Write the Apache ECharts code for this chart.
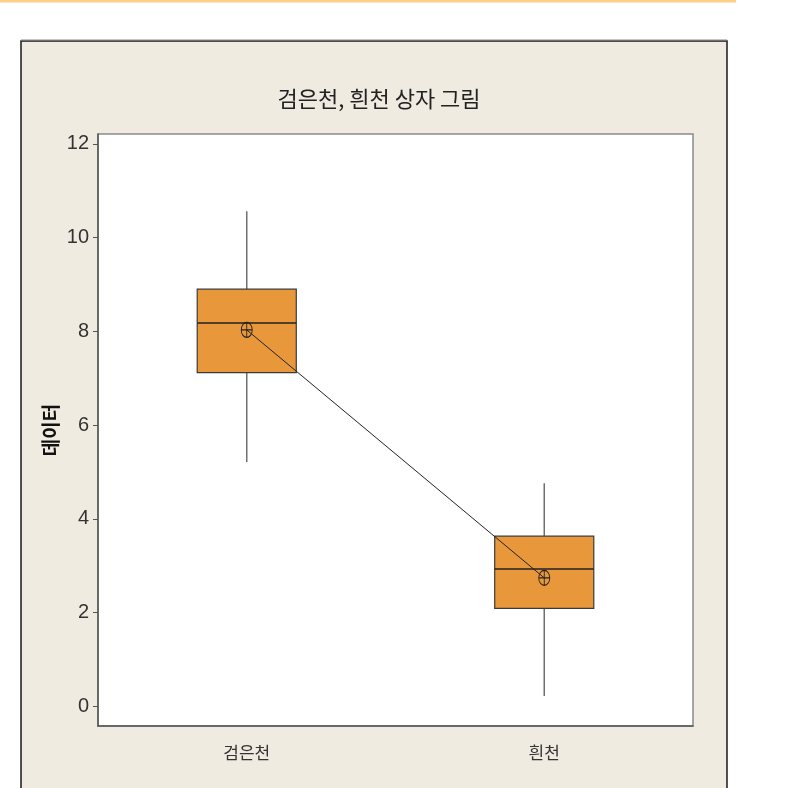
<!DOCTYPE html>
<html>
<head>
<meta charset="utf-8">
<script src="https://cdn.jsdelivr.net/npm/echarts@6/dist/echarts.min.js"></script>
<style>html,body{margin:0;padding:0;background:#fff;}#c{width:812px;height:788px;}</style>
</head>
<body>
<div id="c"></div>
<script>
// ---- data ----
var categories = ['검은천', '흰천'];
var whiskerLow = [5.21, 0.22];
var q1 = [7.12, 2.09];
var median = [8.18, 2.93];
var q3 = [8.90, 3.63];
var whiskerHigh = [10.56, 4.76];
var means = [8.03, 2.74];
var yTicks = [0, 2, 4, 6, 8, 10, 12];
var titleText = '검은천, 흰천 상자 그림';
var yName = '데이터';

var boxData = categories.map(function (c, i) {
  return [i, whiskerLow[i], q1[i], median[i], q3[i], whiskerHigh[i]];
});
var meanData = categories.map(function (c, i) { return [i, means[i]]; });

var chart = echarts.init(document.getElementById('c'), null, { renderer: 'canvas' });

var option = {
  backgroundColor: '#ffffff',
  animation: false,
  graphic: [
    { type: 'rect', z: -10, shape: { x: 0, y: 0, width: 736, height: 2.5 }, style: { fill: '#FDD08A' } },
    { type: 'rect', z: -10, shape: { x: 21, y: 41, width: 706, height: 760 }, style: { fill: '#F0EBE1', stroke: '#1a1a1a', lineWidth: 1.5 } },
    { type: 'line', z: -9, shape: { x1: 21, y1: 40, x2: 727, y2: 40 }, style: { stroke: '#8a8a8a', lineWidth: 1 } }
  ],
  title: {
    text: titleText,
    left: 374,
    top: 83,
    textAlign: 'center',
    textStyle: { fontFamily: 'Noto Sans CJK KR', fontSize: 22, fontWeight: 'normal', color: '#222' }
  },
  grid: {
    left: 98, top: 134, width: 595, height: 592,
    show: true, backgroundColor: '#ffffff', borderColor: '#8a8a8a', borderWidth: 1.5
  },
  xAxis: {
    type: 'category',
    data: categories,
    boundaryGap: true,
    axisLine: { onZero: false, lineStyle: { color: '#555', width: 1.5 } },
    axisTick: { alignWithLabel: true, length: 6, lineStyle: { color: '#555' } },
    axisLabel: { margin: 18, fontFamily: 'Noto Sans CJK KR', fontSize: 17, color: '#333' },
    splitLine: { show: false }
  },
  yAxis: {
    type: 'value',
    min: -0.42,
    max: 12.21,
    name: yName,
    nameLocation: 'middle',
    nameRotate: 90,
    nameGap: 38,
    nameMoveOverlap: false,
    nameTextStyle: { fontFamily: 'Noto Sans CJK KR', fontSize: 19, fontWeight: 'bold', color: '#111' },
    axisLine: { show: true, lineStyle: { color: '#555', width: 1.5 } },
    axisTick: { show: true, customValues: yTicks, length: 5, lineStyle: { color: '#555' } },
    axisLabel: { customValues: yTicks, margin: 9, fontFamily: 'Liberation Sans Narrow, Liberation Sans', fontSize: 20, color: '#333' },
    splitLine: { show: false }
  },
  series: [
    {
      type: 'custom',
      data: boxData,
      z: 2,
      renderItem: function (params, api) {
        var idx = api.value(0);
        var band = api.size([1, 0])[0];
        var half = band * 0.333 / 2;
        var pLow = api.coord([idx, api.value(1)]);
        var pQ1 = api.coord([idx, api.value(2)]);
        var pMed = api.coord([idx, api.value(3)]);
        var pQ3 = api.coord([idx, api.value(4)]);
        var pHigh = api.coord([idx, api.value(5)]);
        var x = pMed[0];
        return {
          type: 'group',
          children: [
            { type: 'line', shape: { x1: x, y1: pHigh[1], x2: x, y2: pQ3[1] }, style: { stroke: '#707070', lineWidth: 1.5 } },
            { type: 'line', shape: { x1: x, y1: pQ1[1], x2: x, y2: pLow[1] }, style: { stroke: '#707070', lineWidth: 1.5 } },
            { type: 'rect', shape: { x: x - half, y: pQ3[1], width: half * 2, height: pQ1[1] - pQ3[1] }, style: { fill: '#E8983A', stroke: '#3a3a3a', lineWidth: 1.2 } },
            { type: 'line', shape: { x1: x - half, y1: pMed[1], x2: x + half, y2: pMed[1] }, style: { stroke: '#222', lineWidth: 1.5 } }
          ]
        };
      }
    },
    {
      type: 'line',
      data: meanData,
      z: 5,
      symbol: 'path://M0,-1 A1,1 0 1,1 0,1 A1,1 0 1,1 0,-1 Z M-1,0 L1,0 M0,-1 L0,1',
      symbolSize: [11, 15],
      showSymbol: true,
      itemStyle: { color: 'rgba(0,0,0,0)', borderColor: '#222', borderWidth: 1 },
      lineStyle: { color: '#222', width: 1 },
      silent: true
    }
  ]
};
chart.setOption(option);
</script>
</body>
</html>
